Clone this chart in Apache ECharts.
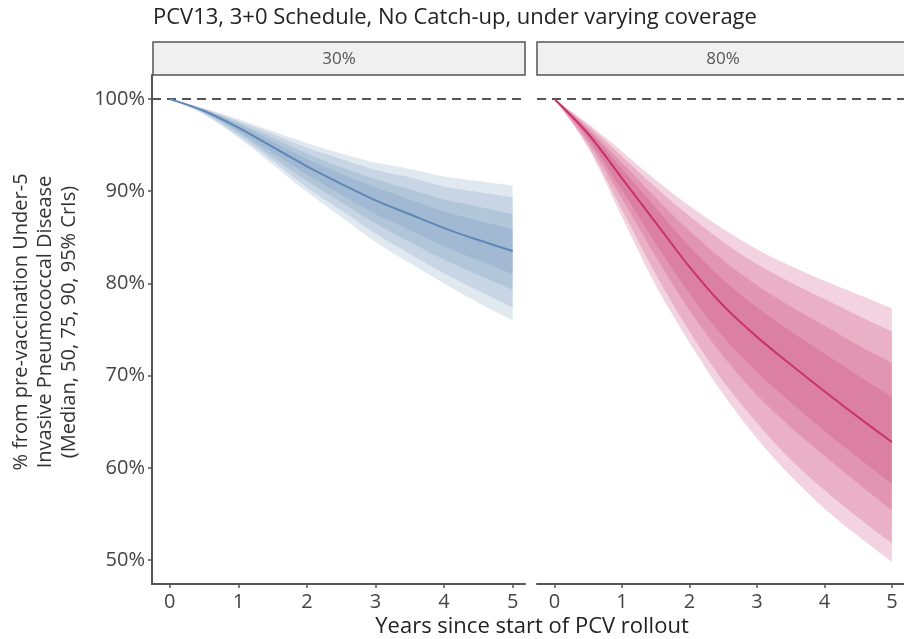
<!DOCTYPE html>
<html>
<head>
<meta charset="utf-8">
<script src="https://cdn.jsdelivr.net/npm/echarts@6/dist/echarts.min.js"></script>
<style>
	html, body { margin: 0; padding: 0; background: #fff; }
	#chart { width: 904px; height: 639px; }
</style>
</head>
<body>
<div id="chart"></div>
<script>
// years since rollout
const years = [0, 0.5, 1, 1.5, 2, 2.5, 3, 3.5, 4, 4.5, 5]
const xTicks = [0, 1, 2, 3, 4, 5]
const yTicks = [50, 60, 70, 80, 90, 100]
const panels = ['30%', '80%']

// 30% coverage
const med30 = [100, 98.7, 96.9, 94.8, 92.7, 90.8, 89.0, 87.5, 86.0, 84.7, 83.5]
const lo95_30 = [100, 98.3, 95.8, 92.9, 89.9, 87.2, 84.5, 82.2, 80.0, 77.9, 76.0]
const hi95_30 = [100, 99.0, 97.8, 96.5, 95.2, 94.1, 93.1, 92.4, 91.6, 91.1, 90.6]
const lo90_30 = [100, 98.4, 96.0, 93.3, 90.4, 87.9, 85.4, 83.2, 81.1, 79.2, 77.4]
const hi90_30 = [100, 98.9, 97.6, 96.2, 94.7, 93.5, 92.3, 91.5, 90.5, 89.9, 89.3]
const lo75_30 = [100, 98.5, 96.3, 93.7, 91.1, 88.8, 86.5, 84.5, 82.6, 80.9, 79.3]
const hi75_30 = [100, 98.9, 97.4, 95.8, 94.1, 92.6, 91.3, 90.2, 89.1, 88.3, 87.5]
const lo50_30 = [100, 98.6, 96.5, 94.2, 91.8, 89.6, 87.5, 85.8, 84.0, 82.5, 81.0]
const hi50_30 = [100, 98.8, 97.2, 95.4, 93.5, 91.9, 90.4, 89.1, 87.8, 86.8, 85.9]

// 80% coverage
const med80 = [100, 96.2, 91.4, 86.6, 81.8, 77.6, 74.2, 71.2, 68.3, 65.5, 62.8]
const lo95_80 = [100, 94.7, 87.2, 79.8, 73.6, 68.0, 63.2, 59.1, 55.6, 52.6, 49.8]
const hi95_80 = [100, 97.3, 94.3, 91.2, 88.4, 85.9, 83.7, 81.9, 80.3, 78.8, 77.3]
const lo90_80 = [100, 94.9, 88.0, 81.0, 74.8, 69.4, 64.9, 60.9, 57.6, 54.6, 51.8]
const hi90_80 = [100, 97.1, 93.8, 90.4, 87.3, 84.5, 82.1, 80.1, 78.3, 76.5, 74.8]
const lo75_80 = [100, 95.3, 89.2, 82.9, 77.1, 72.1, 67.9, 64.4, 61.3, 58.3, 55.4]
const hi75_80 = [100, 96.8, 93.1, 89.3, 85.7, 82.5, 79.8, 77.5, 75.4, 73.3, 71.4]
const lo50_80 = [100, 95.7, 90.1, 84.3, 78.9, 74.2, 70.4, 67.1, 64.0, 61.1, 58.3]
const hi50_80 = [100, 96.6, 92.4, 88.2, 84.0, 80.4, 77.4, 74.8, 72.4, 70.0, 67.7]

const FONT = 'Open Sans'
const AXIS_COL = '#555'

// catmull-rom through pixel points -> cubic bezier path commands
const curveCmds = (pts) => {
	let d = ''
	for (let i = 0; i < pts.length - 1; i++) {
		const p0 = pts[i - 1] || pts[i]
		const p1 = pts[i]
		const p2 = pts[i + 1]
		const p3 = pts[i + 2] || p2
		const c1 = [p1[0] + (p2[0] - p0[0]) / 6, p1[1] + (p2[1] - p0[1]) / 6]
		const c2 = [p2[0] - (p3[0] - p1[0]) / 6, p2[1] - (p3[1] - p1[1]) / 6]
		d += ` C${c1[0]},${c1[1]} ${c2[0]},${c2[1]} ${p2[0]},${p2[1]}`
	}
	return d
}

const band = (idx, lo, hi, fill) => ({
	type: 'custom', xAxisIndex: idx, yAxisIndex: idx, silent: true, z: 2,
	data: [[years[0], hi[0]]],
	renderItem: (params, api) => {
		const top = years.map((x, i) => api.coord([x, hi[i]]))
		const bot = years.map((x, i) => api.coord([x, lo[i]])).reverse()
		const d = `M${top[0][0]},${top[0][1]}` + curveCmds(top) +
			` L${bot[0][0]},${bot[0][1]}` + curveCmds(bot) + ' Z'
		return { type: 'path', shape: { pathData: d }, style: { fill, stroke: null } }
	}
})

const median = (idx, ys, color) => ({
	type: 'custom', xAxisIndex: idx, yAxisIndex: idx, silent: true, z: 5,
	data: [[years[0], ys[0]]],
	renderItem: (params, api) => {
		const pts = years.map((x, i) => api.coord([x, ys[i]]))
		const d = `M${pts[0][0]},${pts[0][1]}` + curveCmds(pts)
		return { type: 'path', shape: { pathData: d }, style: { fill: null, stroke: color, lineWidth: 2 } }
	}
})

const refLine = idx => ({
	type: 'line', xAxisIndex: idx, yAxisIndex: idx, data: [], silent: true,
	markLine: {
		symbol: 'none', silent: true, label: { show: false },
		lineStyle: { color: '#555', width: 2, type: [9, 6] },
		data: [{ yAxis: 100 }]
	}
})

const blue = 'rgba(91,132,177,0.19)'
const pink = 'rgba(200,54,110,0.22)'

const xAxis = idx => ({
	type: 'value', gridIndex: idx, min: -0.26, max: 5.18,
	splitLine: { show: false },
	axisLine: { onZero: false, lineStyle: { color: AXIS_COL, width: 2 } },
	axisTick: { length: 4, lineStyle: { color: AXIS_COL, width: 1.5 }, customValues: xTicks },
	axisLabel: { color: '#444', fontSize: 20, fontFamily: FONT, margin: 8, customValues: xTicks }
})

const yAxis = idx => ({
	type: 'value', gridIndex: idx, min: 47.4, max: 102.6,
	splitLine: { show: false },
	axisLine: { show: idx === 0, onZero: false, lineStyle: { color: AXIS_COL, width: 2 } },
	axisTick: { show: idx === 0, length: 4, lineStyle: { color: AXIS_COL, width: 1.5 }, customValues: yTicks },
	axisLabel: { show: idx === 0, color: '#444', fontSize: 20, fontFamily: FONT, margin: 7, formatter: v => v + '%', customValues: yTicks }
})

const chart = echarts.init(document.getElementById('chart'))

chart.setOption({
	animation: false,
	backgroundColor: '#fff',
	grid: [
		{ left: 152, top: 75, width: 373, height: 509 },
		{ left: 537, top: 75, width: 373, height: 509 }
	],
	xAxis: [xAxis(0), xAxis(1)],
	yAxis: [yAxis(0), yAxis(1)],
	graphic: [
		{
			type: 'text', x: 153, y: 18,
			style: { text: 'PCV13, 3+0 Schedule, No Catch-up, under varying coverage', fill: '#222', font: `22px "${FONT}"`, verticalAlign: 'middle' }
		},
		{
			type: 'rect', shape: { x: 153, y: 42, width: 372, height: 33 },
			style: { fill: '#f0f0f0', stroke: '#555', lineWidth: 1.5 }
		},
		{
			type: 'text', x: 339, y: 59,
			style: { text: panels[0], fill: '#555', font: `17px "${FONT}"`, align: 'center', verticalAlign: 'middle' }
		},
		{
			type: 'rect', shape: { x: 537, y: 42, width: 380, height: 33 },
			style: { fill: '#f0f0f0', stroke: '#555', lineWidth: 1.5 }
		},
		{
			type: 'text', x: 723, y: 59,
			style: { text: panels[1], fill: '#555', font: `17px "${FONT}"`, align: 'center', verticalAlign: 'middle' }
		},
		{
			type: 'text', x: 45, y: 322, rotation: Math.PI / 2,
			style: {
				text: '% from pre-vaccination Under-5\nInvasive Pneumococcal Disease\n(Median, 50, 75, 90, 95% CrIs)',
				fill: '#333', font: `20px "${FONT}"`, lineHeight: 24, align: 'center', verticalAlign: 'middle'
			}
		},
		{
			type: 'text', x: 532, y: 627,
			style: { text: 'Years since start of PCV rollout', fill: '#222', font: `22px "${FONT}"`, align: 'center', verticalAlign: 'middle' }
		}
	],
	series: [
		refLine(0),
		band(0, lo95_30, hi95_30, blue),
		band(0, lo90_30, hi90_30, blue),
		band(0, lo75_30, hi75_30, blue),
		band(0, lo50_30, hi50_30, blue),
		median(0, med30, '#5e88b7'),
		refLine(1),
		band(1, lo95_80, hi95_80, pink),
		band(1, lo90_80, hi90_80, pink),
		band(1, lo75_80, hi75_80, pink),
		band(1, lo50_80, hi50_80, pink),
		median(1, med80, '#c9336b')
	]
})
</script>
</body>
</html>
